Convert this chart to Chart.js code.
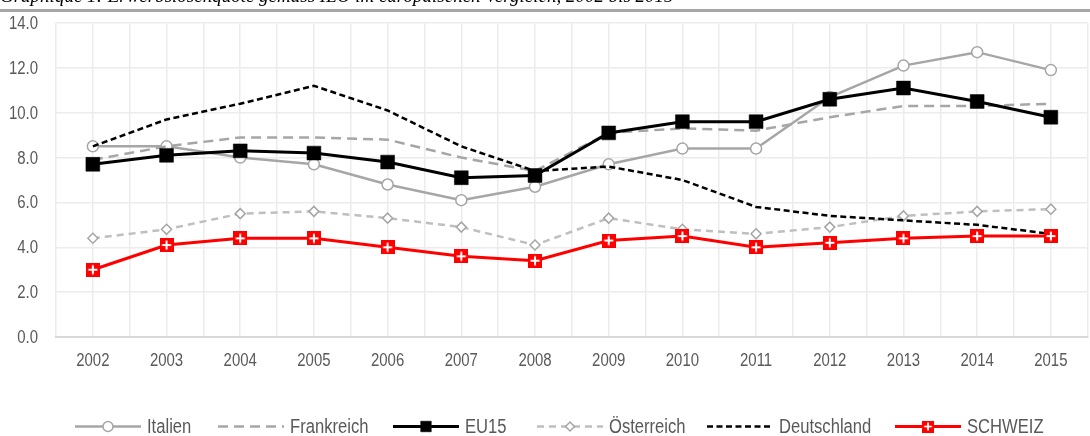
<!DOCTYPE html>
<html>
<head>
<meta charset="utf-8">
<script src="https://cdn.jsdelivr.net/npm/chart.js@4.4.1/dist/chart.umd.min.js"></script>
<style>
  html, body { margin: 0; padding: 0; background: #fff; width: 1090px; height: 436px; overflow: hidden; }
  #wrap { position: absolute; left: 0; top: 0; width: 1098px; height: 436px; }
</style>
</head>
<body>
<div id="wrap"><canvas id="c"></canvas></div>
<script>
// ---- data ----
const years = [2002, 2003, 2004, 2005, 2006, 2007, 2008, 2009, 2010, 2011, 2012, 2013, 2014, 2015];
const italien     = [8.5, 8.5, 8.0, 7.7, 6.8, 6.1, 6.7, 7.7, 8.4, 8.4, 10.7, 12.1, 12.7, 11.9];
const frankreich  = [7.9, 8.5, 8.9, 8.9, 8.8, 8.0, 7.4, 9.1, 9.3, 9.2, 9.8, 10.3, 10.3, 10.4];
const eu15        = [7.7, 8.1, 8.3, 8.2, 7.8, 7.1, 7.2, 9.1, 9.6, 9.6, 10.6, 11.1, 10.5, 9.8];
const oesterreich = [4.4, 4.8, 5.5, 5.6, 5.3, 4.9, 4.1, 5.3, 4.8, 4.6, 4.9, 5.4, 5.6, 5.7];
const deutschland = [8.5, 9.7, 10.4, 11.2, 10.1, 8.5, 7.4, 7.6, 7.0, 5.8, 5.4, 5.2, 5.0, 4.6];
const schweiz     = [3.0, 4.1, 4.4, 4.4, 4.0, 3.6, 3.4, 4.3, 4.5, 4.0, 4.2, 4.4, 4.5, 4.5];
const yTicks = [0, 2, 4, 6, 8, 10, 12, 14];
const seriesNames = ['Italien', 'Frankreich', 'EU15', 'Österreich', 'Deutschland', 'SCHWEIZ'];
const titleText = 'Graphique 1: Erwerbslosenquote gemäss ILO im europäischen Vergleich, 2002 bis 2015';

const FONT = "'Liberation Sans', Arial, sans-serif";
const SX = 0.83; // horizontal condensing to mimic a narrow face

function swissMarker(size) {
  const c = document.createElement('canvas');
  c.width = size; c.height = size;
  const g = c.getContext('2d');
  g.fillStyle = '#ff0000';
  g.fillRect(0, 0, size, size);
  g.fillStyle = '#ffffff';
  const t = 2, m = size / 2;
  g.fillRect(m - t / 2, 2.5, t, size - 5);
  g.fillRect(2.5, m - t / 2, size - 5, t);
  return c;
}
const swiss = swissMarker(14);

const pts = arr => years.map((y, i) => ({ x: y, y: arr[i] }));

const datasets = [
  { label: seriesNames[0], data: pts(italien), borderColor: '#a6a6a6', borderWidth: 2.5,
    pointStyle: 'circle', pointRadius: 5.5, pointBorderWidth: 1.5, pointBackgroundColor: '#ffffff', pointBorderColor: '#a6a6a6', order: 5 },
  { label: seriesNames[1], data: pts(frankreich), borderColor: '#a6a6a6', borderWidth: 2.5, borderDash: [10, 6],
    pointRadius: 0, order: 4 },
  { label: seriesNames[2], data: pts(eu15), borderColor: '#000000', borderWidth: 3,
    pointStyle: 'rect', pointRadius: 9.8, pointBorderWidth: 0.5, pointBackgroundColor: '#000000', pointBorderColor: '#000000', order: 1 },
  { label: seriesNames[3], data: pts(oesterreich), borderColor: '#bfbfbf', borderWidth: 2.5, borderDash: [7, 5],
    pointStyle: 'rectRot', pointRadius: 5, pointBorderWidth: 1.5, pointBackgroundColor: '#ffffff', pointBorderColor: '#a6a6a6', order: 3 },
  { label: seriesNames[4], data: pts(deutschland), borderColor: '#000000', borderWidth: 2.5, borderDash: [6, 3.5],
    pointRadius: 0, order: 2 },
  { label: seriesNames[5], data: pts(schweiz), borderColor: '#ff0000', borderWidth: 3,
    pointStyle: swiss, pointRadius: 7, order: 0 }
];

const legendStarts = [75, 218, 393, 537, 707, 895];

function narrowText(ctx, text, x, y, align) {
  ctx.save();
  ctx.translate(x, y);
  ctx.scale(SX, 1);
  ctx.textAlign = align;
  ctx.fillText(text, 0, 0);
  ctx.restore();
}

const decor = {
  id: 'decor',
  afterDraw(chart) {
    const ctx = chart.ctx;
    ctx.save();
    // cut-off title + rule
    ctx.fillStyle = '#000';
    ctx.font = "italic 19px 'Liberation Serif', serif";
    ctx.textBaseline = 'alphabetic';
    ctx.textAlign = 'left';
    ctx.fillText(titleText, 0, 1.5);
    ctx.fillStyle = '#a6a6a6';
    ctx.fillRect(0, 9, 1098, 3);

    // axis tick labels
    ctx.fillStyle = '#595959';
    ctx.font = '18px ' + FONT;
    ctx.textBaseline = 'middle';
    const xs = chart.scales.x, ys = chart.scales.y;
    years.forEach(yr => narrowText(ctx, String(yr), xs.getPixelForValue(yr), 361, 'center'));
    yTicks.forEach(v => narrowText(ctx, v.toFixed(1), 38, ys.getPixelForValue(v) + 1, 'right'));

    // legend
    const ly = 426.5;
    ctx.font = '20px ' + FONT;
    datasets.forEach((ds, i) => {
      const x0 = legendStarts[i], x1 = x0 + 66;
      ctx.save();
      ctx.strokeStyle = ds.borderColor;
      ctx.lineWidth = ds.borderWidth;
      ctx.setLineDash(ds.borderDash || []);
      ctx.beginPath(); ctx.moveTo(x0, ly); ctx.lineTo(x1, ly); ctx.stroke();
      ctx.setLineDash([]);
      if (ds.pointRadius > 0) {
        const cx = (x0 + x1) / 2;
        if (ds.pointStyle instanceof HTMLCanvasElement) {
          ctx.drawImage(ds.pointStyle, cx - 6, ly - 6, 12, 12);
        } else {
          ctx.fillStyle = ds.pointBackgroundColor;
          ctx.strokeStyle = ds.pointBorderColor;
          ctx.lineWidth = ds.pointBorderWidth;
          Chart.helpers.drawPoint(ctx, {
            pointStyle: ds.pointStyle, radius: ds.pointStyle === 'rect' ? 7.5 : ds.pointRadius - 0.5,
            borderWidth: ds.pointBorderWidth, rotation: 0
          }, cx, ly);
        }
      }
      ctx.restore();
      ctx.fillStyle = '#595959';
      narrowText(ctx, ds.label, x1 + 6, ly + 1, 'left');
    });
    ctx.restore();
  }
};

new Chart(document.getElementById('c'), {
  type: 'line',
  data: { datasets },
  options: {
    responsive: true,
    maintainAspectRatio: false,
    animation: false,
    layout: { padding: { top: 23, bottom: 59, left: 0, right: 0 } },
    plugins: { legend: { display: false }, tooltip: { enabled: false } },
    elements: { line: { tension: 0 } },
    scales: {
      x: {
        type: 'linear', min: 2001.5, max: 2015.5,
        afterFit(s) { s.height = 40; },
        afterBuildTicks(s) {
          const t = [];
          for (let v = 2001.5; v <= 2015.5 + 1e-9; v += 0.5) t.push({ value: v });
          s.ticks = t;
        },
        ticks: { display: false, autoSkip: false },
        grid: { color: '#ececec', lineWidth: 1.5, drawTicks: false },
        border: { display: true, color: '#d9d9d9', width: 2 }
      },
      y: {
        min: 0, max: 14,
        afterFit(s) { s.width = 56; },
        afterBuildTicks(s) { s.ticks = yTicks.map(v => ({ value: v })); },
        ticks: { display: false },
        grid: { color: '#ececec', lineWidth: 1.5, drawTicks: false },
        border: { display: false }
      }
    }
  },
  plugins: [decor]
});
</script>
</body>
</html>
